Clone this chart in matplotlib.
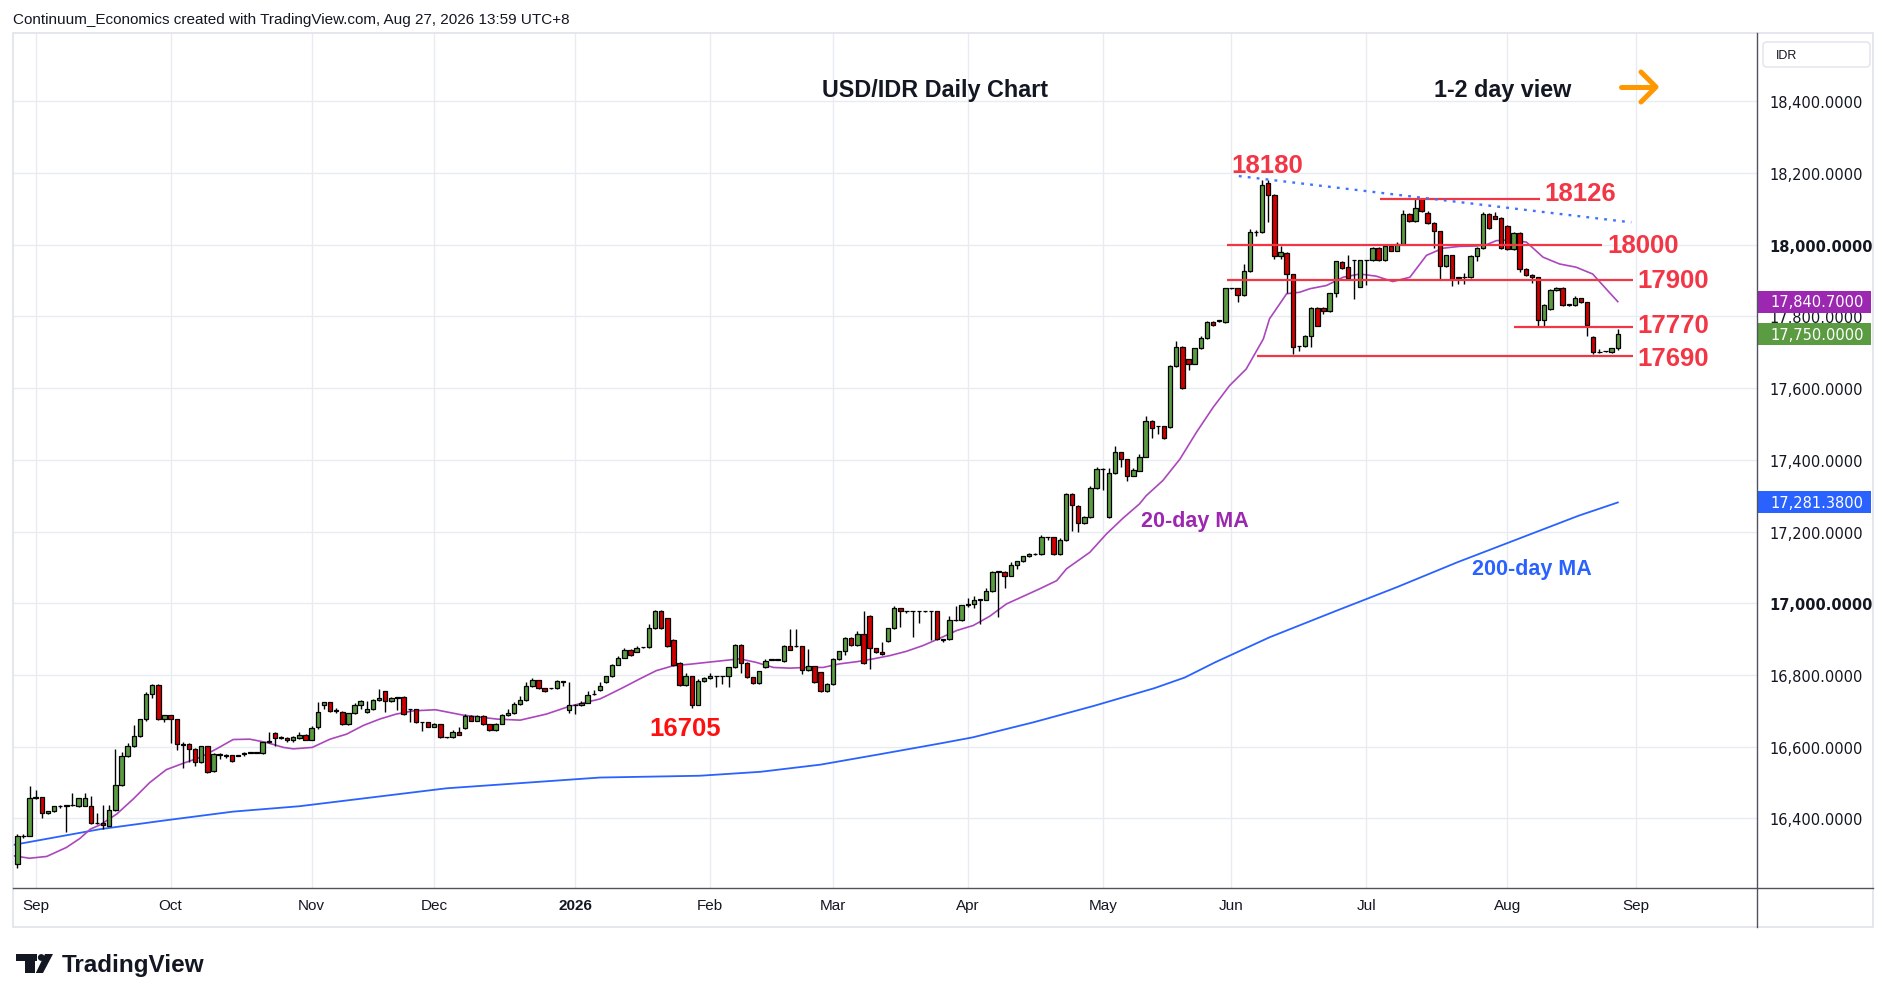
import matplotlib
matplotlib.use('Agg')
import matplotlib.pyplot as plt
import matplotlib.transforms as mtransforms
from matplotlib.patches import Rectangle, Polygon, Circle, FancyBboxPatch
from matplotlib.lines import Line2D
import numpy as np
import pandas as pd

# ---------------- data ----------------
first_date = '2025-08-27'

opens = [16272,16350,16352,16456,16459,16414,16420,16434,16436,16437,
         16436,16436,16434,16386,16386,16380,16424,16493,16573,16603,
         16631,16676,16747,16772,16676,16687,16676,16607,16607,16593,
         16556,16601,16531,16581,16575,16576,16575,16581,16583,16583,
         16583,16613,16639,16625,16624,16618,16625,16634,16620,16655,
         16717,16724,16700,16698,16662,16693,16717,16696,16704,16730,
         16754,16727,16737,16738,16704,16704,16668,16668,16656,16662,
         16626,16626,16640,16651,16685,16673,16685,16662,16647,16664,
         16687,16693,16718,16730,16768,16785,16763,16763,16763,16782,
         16701,16716,16716,16723,16746,16757,16779,16796,16829,16848,
         16871,16865,16877,16877,16930,16978,16958,16897,16833,16772,
         16796,16717,16782,16791,16796,16796,16796,16821,16883,16833,
         16793,16777,16822,16842,16842,16838,16880,16880,16880,16814,
         16824,16807,16754,16775,16845,16866,16904,16883,16913,16965,
         16874,16863,16894,16930,16986,16977,16977,16977,16977,16977,
         16977,16898,16900,16953,16953,16995,16997,17010,17010,17033,
         17087,17087,17077,17108,17117,17131,17137,17137,17184,17184,
         17137,17175,17304,17272,17224,17240,17321,17374,17240,17362,
         17421,17401,17356,17370,17409,17509,17493,17493,17491,17661,
         17714,17680,17668,17711,17739,17784,17787,17784,17878,17878,
         17859,17925,18035,18035,18171,18139,17968,17976,17917,17716,
         17716,17746,17823,17823,17814,17864,17951,17938,17956,17883,
         17956,17956,17990,17956,17995,17983,18001,18086,18065,18127,
         18088,18060,18037,17940,17970,17907,17909,17909,17968,17990,
         18085,18081,18074,18053,17988,18033,17932,17915,17909,17790,
         17821,17874,17879,17832,17832,17850,17839,17742,17700,17702,
         17700,17711]

highs = [16356,16356,16490,16480,16460,16421,16436,16437,16438,16470,
         16456,16470,16463,16414,16437,16437,16594,16584,16609,16660,
         16678,16753,16775,16775,16689,16689,16678,16612,16609,16595,
         16603,16603,16583,16582,16580,16577,16577,16584,16584,16584,
         16614,16640,16641,16630,16626,16629,16640,16636,16659,16726,
         16726,16726,16707,16700,16695,16722,16730,16728,16733,16761,
         16756,16739,16739,16740,16706,16706,16670,16670,16665,16664,
         16628,16647,16656,16690,16687,16687,16687,16664,16666,16691,
         16705,16726,16740,16780,16791,16787,16765,16765,16786,16784,
         16781,16718,16727,16755,16758,16779,16798,16831,16852,16875,
         16873,16880,16879,16942,16980,16980,16960,16899,16835,16805,
         16798,16789,16793,16805,16798,16798,16823,16885,16885,16835,
         16795,16812,16845,16843,16843,16884,16928,16928,16882,16872,
         16826,16809,16777,16847,16868,16906,16906,16923,16977,16968,
         16876,16891,16932,16993,16988,16979,16979,16979,16979,16979,
         16979,16900,16964,16991,16996,17016,17019,17012,17042,17089,
         17089,17089,17115,17119,17133,17140,17139,17190,17186,17186,
         17182,17306,17306,17274,17242,17326,17379,17376,17376,17438,
         17423,17403,17376,17416,17521,17511,17495,17495,17663,17731,
         17716,17682,17713,17744,17786,17786,17789,17880,17880,17880,
         17945,18044,18042,18181,18181,18141,17996,17978,17919,17718,
         17748,17825,17825,17825,17866,17955,17953,17972,17958,17958,
         17958,17992,17992,17997,17997,18007,18097,18088,18127,18129,
         18093,18062,18039,17972,17972,17909,17920,17970,17992,18090,
         18087,18090,18076,18055,18035,18035,17934,17917,17911,17834,
         17876,17881,17881,17834,17856,17852,17841,17744,17709,17704,
         17713,17765]

lows = [16262,16345,16350,16455,16402,16412,16418,16428,16363,16434,
        16433,16434,16384,16384,16370,16378,16420,16490,16570,16600,
        16628,16672,16737,16674,16670,16609,16591,16541,16558,16547,
        16554,16527,16529,16566,16568,16557,16573,16575,16582,16582,
        16581,16611,16603,16621,16613,16613,16622,16618,16618,16649,
        16705,16698,16694,16660,16660,16690,16705,16694,16702,16728,
        16698,16725,16702,16689,16668,16666,16643,16654,16654,16624,
        16624,16624,16632,16649,16671,16671,16660,16645,16645,16662,
        16685,16691,16716,16728,16766,16761,16752,16761,16761,16770,
        16693,16691,16714,16721,16744,16755,16777,16794,16827,16846,
        16853,16863,16875,16875,16928,16928,16878,16826,16770,16770,
        16707,16715,16780,16789,16767,16775,16767,16819,16805,16791,
        16775,16775,16820,16841,16841,16836,16869,16878,16802,16812,
        16778,16752,16752,16773,16843,16857,16881,16881,16830,16817,
        16861,16856,16892,16928,16935,16972,16907,16944,16975,16897,
        16898,16893,16898,16951,16951,16989,16988,16942,17008,17031,
        16963,17043,17075,17096,17115,17129,17135,17135,17177,17135,
        17135,17173,17202,17198,17222,17238,17319,17317,17238,17360,
        17381,17342,17354,17368,17407,17460,17472,17458,17489,17659,
        17597,17651,17666,17709,17737,17774,17785,17782,17876,17841,
        17857,17923,18023,18033,18062,17960,17960,17864,17695,17702,
        17714,17714,17772,17806,17812,17853,17933,17904,17847,17881,
        17888,17954,17954,17954,17981,17981,17999,18063,18063,18091,
        18058,17990,17904,17938,17884,17889,17890,17907,17954,17988,
        18044,18070,17988,17986,17986,17923,17912,17893,17771,17771,
        17819,17872,17830,17830,17830,17837,17745,17695,17698,17700,
        17698,17706]

closes = [16350,16352,16456,16459,16414,16420,16434,16436,16437,16437,
          16456,16457,16386,16386,16381,16424,16493,16573,16603,16631,
          16676,16747,16772,16676,16687,16676,16607,16606,16593,16556,
          16601,16529,16581,16577,16575,16559,16575,16582,16583,16583,
          16612,16614,16625,16626,16618,16626,16634,16620,16651,16696,
          16724,16700,16700,16662,16693,16717,16727,16704,16730,16736,
          16727,16737,16737,16691,16704,16668,16668,16656,16662,16626,
          16626,16640,16634,16685,16673,16685,16662,16647,16664,16687,
          16693,16718,16730,16768,16785,16763,16754,16763,16782,16781,
          16716,16716,16723,16744,16746,16770,16796,16829,16848,16871,
          16855,16874,16877,16930,16978,16930,16880,16829,16772,16798,
          16717,16783,16791,16796,16796,16796,16821,16883,16833,16793,
          16777,16810,16838,16842,16842,16880,16871,16880,16814,16824,
          16780,16754,16775,16845,16866,16904,16883,16913,16832,16874,
          16863,16858,16930,16986,16977,16977,16977,16977,16977,16977,
          16900,16898,16953,16953,16994,16995,17010,17010,17033,17087,
          17087,17077,17108,17117,17131,17137,17137,17184,17184,17137,
          17175,17304,17274,17224,17240,17321,17374,17374,17362,17421,
          17401,17356,17372,17409,17509,17490,17493,17460,17661,17714,
          17599,17668,17711,17739,17784,17776,17787,17878,17878,17859,
          17925,18035,18035,18165,18139,17968,17979,17918,17714,17716,
          17746,17823,17774,17814,17864,17953,17935,17906,17956,17956,
          17956,17990,17956,17995,17983,18001,18086,18065,18101,18093,
          18060,18037,17940,17970,17904,17907,17909,17968,17990,18085,
          18046,18072,17990,17988,18033,17932,17914,17909,17790,17832,
          17874,17879,17832,17832,17850,17839,17776,17700,17700,17702,
          17711,17750]

# 20-day MA (bar position, value)
ma20_pos = [-0.7,2,4.8,8,10.2,11.9,13.5,16.2,18.9,21.6,24.3,27.1,29.8,32.5,35.2,37.9,40.6,43.4,
            45,48.1,51,53.7,56.4,59.1,61.8,64.6,68.2,72.7,78.2,82,86.3,90.1,95,
            96.1,98.8,101.5,104.2,107,109.7,112.4,115.1,117.8,120.5,123.3,126,128.7,131.4,134.1,136.9,139.6,142.3,
            145,147.7,150.4,153.2,155.9,158.6,161.3,164,166.7,169.5,171.1,174.9,177.6,180.3,183,
            184.1,186.8,189.6,192.3,195,197.7,200.4,203.2,204.2,207,209.1,210.8,
            213.5,216.2,218.9,221.6,224.3,227.1,229.8,232.5,235.2,237.9,239.6,241.2,243.3,246.1,248.8,251.5,254.2,256.9,259.6,261]
ma20_val = [16296,16289,16294,16319,16344,16370,16382,16412,16454,16500,16536,16554,16570,16594,16620,16621,16612,16598,
            16594,16598,16621,16635,16659,16677,16691,16700,16703,16688,16677,16674,16691,16713,16733,
            16742,16765,16789,16812,16826,16830,16835,16840,16845,16835,16821,16819,16821,16821,16831,16837,16845,16854,
            16866,16882,16902,16924,16938,16964,16998,17019,17040,17063,17096,17142,17193,17237,17277,
            17300,17342,17402,17477,17546,17607,17653,17737,17793,17863,17867,17877,
            17886,17909,17918,17912,17897,17909,17970,17990,17995,17996,18000,18011,18013,18007,17965,17946,17937,17918,17867,17841]

# 200-day MA (bar position, value)
ma200_pos = [-0.7,13.5,24.3,35.2,46,70,95,111.3,121.2,131,141,150.8,155.8,165.7,175.6,185.4,190.4,195.3,
             204.2,215.1,225,234.8,244.7,254.6,261]
ma200_val = [16326,16370,16395,16419,16434,16484,16514,16519,16530,16550,16580,16610,16626,16668,16714,16763,16793,16835,
             16905,16979,17045,17114,17179,17244,17281]

price_ticks = [16400, 16600, 16800, 17000, 17200, 17400, 17600, 17800, 18000, 18200, 18400]

# analyst levels
level_values = [18126, 18000, 17900, 17770, 17690]
level_spans = [(222.2, 248.3), (197.2, 258.4), (197.2, 263.4), (244.1, 263.4), (202.1, 263.4)]
peak_label, trough_label = 18180, 16705
trend_bars = [199.2, 263.2]
trend_vals = [18191, 18062]

# price tags on the axis
tag_texts = ['17,840.7000', '17,750.0000', '17,281.3800']
tag_values = [17840.7, 17750.0, 17281.38]
tag_colors = ['#9c27b0', '#5b9b42', '#2962ff']

# ---------------- figure ----------------
plt.rcParams['font.family'] = ['Liberation Sans', 'DejaVu Sans']
W, H = 1890, 1003
fig = plt.figure(figsize=(W / 100, H / 100), dpi=100, facecolor='white')
PL, PR, PT, PB = 13, 1757, 34, 889
ax = fig.add_axes([PL / W, 1 - PB / H, (PR - PL) / W, (PB - PT) / H])
ax.set_xlim(-0.7, 283.7)
ax.set_ylim(16206, 18590)
px = mtransforms.Affine2D().scale(1 / W, -1 / H).translate(0, 1) + fig.transFigure

n = len(closes)
x = np.arange(n)
o = np.array(opens, float); c = np.array(closes, float)
hi = np.array(highs, float); lo = np.array(lows, float)

# x ticks (first business day of each month)
all_days = pd.bdate_range(first_date, '2026-10-30')
tick_pos, tick_lab = [], []
for i in range(1, len(all_days)):
    if all_days[i].month != all_days[i - 1].month and i < 283:
        tick_pos.append(i)
        d = all_days[i]
        tick_lab.append(str(d.year) if d.month == 1 else d.strftime('%b'))

ax.set_xticks(tick_pos)
ax.set_xticklabels(tick_lab)
ax.set_yticks(price_ticks)
ax.set_yticklabels([f'{v:,.4f}' for v in price_ticks])
ax.yaxis.tick_right()
ax.tick_params(axis='y', length=0, pad=9, labelsize=10.5, labelcolor='#131722')
ax.tick_params(axis='x', length=0, pad=7, labelsize=11, labelcolor='#131722')
for lab in ax.get_yticklabels():
    lab.set_fontfamily(['DejaVu Sans'])
    if lab.get_text() in ('18,000.0000', '17,000.0000'):
        lab.set_fontweight('bold')
for lab in ax.get_xticklabels():
    if lab.get_text() == '2026':
        lab.set_fontweight('bold')
ax.grid(True, color='#e8ecf1', lw=1.0)
ax.set_axisbelow(True)
for s in ax.spines.values():
    s.set_visible(False)

# moving averages
ax.plot(ma200_pos, ma200_val, color='#2962ff', lw=1.3, zorder=2)
ax.plot(ma20_pos, ma20_val, color='#ab47bc', lw=1.2, zorder=2)

# candles
up = c >= o
ax.vlines(x, lo, hi, color='black', lw=1.0, zorder=3)
body_bot = np.minimum(o, c)
body_h = np.maximum(np.abs(c - o), 1.5)
ax.bar(x, body_h, bottom=body_bot, width=0.72,
       color=np.where(up, '#5b9b42', '#d10000'), edgecolor='black', linewidth=0.9, zorder=4)

# analyst lines
for v, (a, b) in zip(level_values, level_spans):
    ax.hlines(v, a, b, color='#f23645', lw=1.6, zorder=5)
ax.plot(trend_bars, trend_vals, color='#3d74ff', lw=1.7, ls=(0, (1.2, 2.6)), zorder=5)

red = '#f23645'
lab_kw = dict(textcoords='offset points', ha='center', va='center', fontsize=18.5,
              fontweight='bold', color=red, zorder=7)
ax.annotate(str(peak_label), (203.9, peak_label), xytext=(0, 11), **lab_kw)
ax.annotate(str(trough_label), (108.9, trough_label), xytext=(0, -14),
            **{**lab_kw, 'color': '#ff1010'})
label_spots = [(254.9, 4.5), (265.1, 0.0), (270.0, 0.5), (270.0, 1.5), (270.0, -1.5)]
for v, (bx, dy) in zip(level_values, label_spots):
    ax.annotate(str(v), (bx, v), xytext=(0, dy), annotation_clip=False, **lab_kw)

fig.text(1194.5 / W, 1 - 521 / H, '20-day MA', color='#9c27b0', fontsize=15.5,
         fontweight='bold', ha='center', va='center')
fig.text(1532 / W, 1 - 570 / H, '200-day MA', color='#2962ff', fontsize=15.5,
         fontweight='bold', ha='center', va='center')

# headings
fig.text(935 / W, 1 - 91 / H, 'USD/IDR Daily Chart', fontsize=16.8, fontweight='bold',
         color='#131722', ha='center', va='center')
fig.text(1503 / W, 1 - 91 / H, '1-2 day view', fontsize=16.8, fontweight='bold',
         color='#131722', ha='center', va='center')
arrow_kw = dict(transform=px, color='#ff9800', lw=3.6, solid_capstyle='round', solid_joinstyle='round')
fig.add_artist(Line2D([1621, 1653], [88, 88], **arrow_kw))
fig.add_artist(Line2D([1641, 1656, 1641], [73, 88, 103], **arrow_kw))

fig.text(13 / W, 1 - 20 / H, 'Continuum_Economics created with TradingView.com, Aug 27, 2026 13:59 UTC+8',
         fontsize=11, color='#131722', ha='left', va='center')

# frame lines
fig.add_artist(Rectangle((PL, PT), 1873 - PL, 928 - PT, transform=px, fill=False,
                         ec='#e0e3eb', lw=1.2))
fig.add_artist(Line2D([PR, PR], [PT, 928], transform=px, color='#50535e', lw=1.0))
fig.add_artist(Line2D([PL, 1873], [PB, PB], transform=px, color='#50535e', lw=1.0))

# IDR box
fig.add_artist(FancyBboxPatch((1763, 43), 107, 25, boxstyle='round,pad=0,rounding_size=4',
                              transform=px, fc='white', ec='#e0e3eb', lw=1.0))
fig.text(1776 / W, 1 - 56 / H, 'IDR', fontsize=9, color='#131722', ha='left', va='center')

# price tags
blend = mtransforms.blended_transform_factory(px, ax.transData)
for t, v, col in zip(tag_texts, tag_values, tag_colors):
    ax.add_patch(Rectangle((PR, v - 31), 114, 62, transform=blend, fc=col, ec='none',
                           clip_on=False, zorder=8))
    ax.text(1770, v, t, transform=blend, color='white', fontsize=10.5, family=['DejaVu Sans'],
            ha='left', va='center', clip_on=False, zorder=9)

# TradingView logo
fig.add_artist(Polygon([(15.6, 955), (36.6, 955), (36.6, 961.7), (34.8, 961.7), (34.8, 974),
                        (24.6, 974), (24.6, 961.7), (15.6, 961.7)], closed=True, transform=px,
                       fc='#131722', ec='none'))
fig.add_artist(Circle((41.3, 958.5), 3.4, transform=px, fc='#131722', ec='none'))
fig.add_artist(Polygon([(45.0, 955), (53.0, 955), (43.0, 974), (35.8, 974)], closed=True,
                       transform=px, fc='#131722', ec='none'))
fig.text(62 / W, 1 - 966 / H, 'TradingView', fontsize=17.5, fontweight='bold', color='#131722',
         ha='left', va='center')

fig.savefig('out.png', dpi=100, facecolor='white')
